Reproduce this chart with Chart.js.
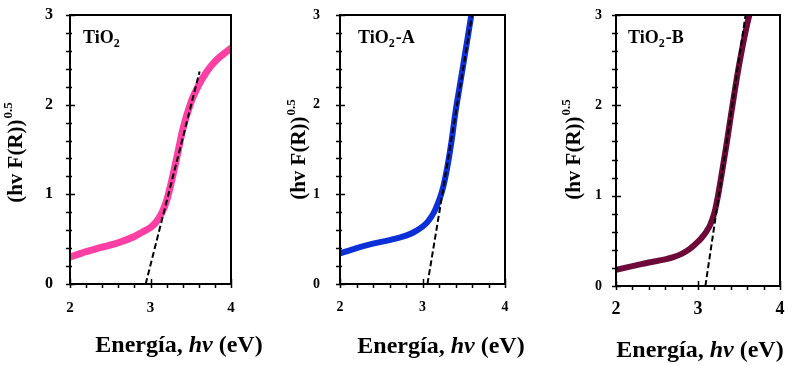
<!DOCTYPE html>
<html>
<head>
<meta charset="utf-8">
<script src="https://cdn.jsdelivr.net/npm/chart.js@4/dist/chart.umd.min.js"></script>
<style>
  html, body { margin: 0; padding: 0; background: #fff; }
  #wrap { position: relative; width: 800px; height: 365px; }
  canvas { position: absolute; top: 0; }
</style>
</head>
<body>
<div id="wrap">
  <canvas id="c1" width="270" height="365" style="left:0px"></canvas>
  <canvas id="c2" width="265" height="365" style="left:270px"></canvas>
  <canvas id="c3" width="265" height="365" style="left:535px"></canvas>
</div>
<script>
// axis ticks
const xTicks = [2, 3, 4];
const yTicks = [0, 1, 2, 3];

// TiO2
const tio2X = [2.0, 2.2, 2.4, 2.6, 2.8, 2.9, 3.0, 3.05, 3.1, 3.15, 3.2, 3.25, 3.3, 3.35, 3.4, 3.5, 3.6, 3.7, 3.8, 3.9, 4.0];
const tio2Y = [0.30, 0.36, 0.41, 0.46, 0.53, 0.58, 0.63, 0.67, 0.73, 0.81, 0.93, 1.10, 1.30, 1.51, 1.72, 2.02, 2.22, 2.37, 2.48, 2.56, 2.63];
const tio2FitX = [2.94, 3.61];
const tio2FitY = [0, 2.37];

// TiO2-A
const tio2aX = [2.0, 2.2, 2.4, 2.6, 2.8, 2.9, 3.0, 3.05, 3.1, 3.15, 3.2, 3.25, 3.3, 3.35, 3.4, 3.45, 3.5, 3.55, 3.6];
const tio2aY = [0.34, 0.40, 0.45, 0.49, 0.54, 0.58, 0.64, 0.68, 0.74, 0.82, 0.93, 1.08, 1.30, 1.58, 1.92, 2.20, 2.48, 2.76, 3.05];
const tio2aFitX = [3.06, 3.60];
const tio2aFitY = [0, 3.0];

// TiO2-B
const tio2bX = [2.0, 2.2, 2.4, 2.6, 2.7, 2.8, 2.9, 3.0, 3.05, 3.1, 3.15, 3.2, 3.25, 3.3, 3.35, 3.4, 3.5, 3.6, 3.7];
const tio2bY = [0.18, 0.22, 0.26, 0.295, 0.32, 0.355, 0.41, 0.49, 0.54, 0.60, 0.68, 0.81, 1.03, 1.30, 1.58, 1.88, 2.44, 2.90, 3.25];
const tio2bFitX = [3.09, 3.58];
const tio2bFitY = [0, 3.0];

const SERIF = "'Liberation Serif', 'Times New Roman', serif";

function pts(xs, ys) {
    return xs.map((x, i) => ({x: x, y: ys[i]}));
}

// frame, tick marks and the texts with sub/superscripts
const decor = {
    id: 'decor',
    afterDraw(chart, args, o) {
        const ctx = chart.ctx;
        const a = chart.chartArea;
        const xs = chart.scales.x, ys = chart.scales.y;
        ctx.save();
        ctx.strokeStyle = '#000';
        ctx.lineWidth = 2;
        ctx.strokeRect(a.left, a.top, a.right - a.left, a.bottom - a.top);
        ctx.lineWidth = 1.5;
        ctx.beginPath();
        for (let v = 0; v <= 3.001; v += 0.2) {
            const y = Math.round(ys.getPixelForValue(v)) + 0.5;
            const major = Math.abs(v - Math.round(v)) < 0.01;
            ctx.moveTo(a.left - 4, y);
            ctx.lineTo(a.left + (major ? 5 : 2), y);
        }
        for (let v = 2; v <= 4.001; v += 0.2) {
            const x = Math.round(xs.getPixelForValue(v)) + 0.5;
            const major = Math.abs(v - Math.round(v)) < 0.01;
            ctx.moveTo(x, a.bottom + 4);
            ctx.lineTo(x, a.bottom - (major ? 5 : 1));
        }
        ctx.stroke();

        ctx.fillStyle = '#000';
        ctx.textBaseline = 'alphabetic';
        ctx.textAlign = 'left';

        // panel label, e.g. TiO2-A
        ctx.font = 'bold 18px ' + SERIF;
        let x = o.label.x;
        ctx.fillText('TiO', x, o.label.y);
        x += ctx.measureText('TiO').width;
        ctx.font = 'bold 12px ' + SERIF;
        ctx.fillText('2', x, o.label.y + 4);
        x += ctx.measureText('2').width;
        if (o.label.suffix) {
            ctx.font = 'bold 18px ' + SERIF;
            ctx.fillText(o.label.suffix, x + 1, o.label.y);
        }

        // y title (hv F(R))^0.5
        ctx.save();
        ctx.translate(o.yTitle.x, o.yTitle.y);
        ctx.rotate(-Math.PI / 2);
        ctx.font = 'bold 21px ' + SERIF;
        const mainTxt = '(hv F(R))';
        const mw = ctx.measureText(mainTxt).width;
        ctx.font = 'bold 13px ' + SERIF;
        const sw = ctx.measureText('0.5').width;
        const start = -(mw + sw) / 2;
        ctx.font = 'bold 21px ' + SERIF;
        ctx.fillText(mainTxt, start, 0);
        ctx.font = 'bold 13px ' + SERIF;
        ctx.fillText('0.5', start + mw + 1, -10);
        ctx.restore();

        // x title Energía, hv (eV)
        const parts = [
            ['Energía, ', 'bold 24px ' + SERIF],
            ['hv', 'italic bold 24px ' + SERIF],
            [' (eV)', 'bold 24px ' + SERIF]
        ];
        let tw = 0;
        parts.forEach(p => { ctx.font = p[1]; tw += ctx.measureText(p[0]).width; });
        x = o.xTitle.x - tw / 2;
        parts.forEach(p => {
            ctx.font = p[1];
            ctx.fillText(p[0], x, o.xTitle.y);
            x += ctx.measureText(p[0]).width;
        });
        ctx.restore();
    }
};

function makePanel(id, cfg) {
    const ctx = document.getElementById(id).getContext('2d');
    return new Chart(ctx, {
        type: 'line',
        data: {
            datasets: [{
                data: pts(cfg.fitX, cfg.fitY),
                borderColor: '#000',
                borderWidth: 2,
                borderDash: [6, 3],
                pointRadius: 0,
                order: 0
            }, {
                data: pts(cfg.xs, cfg.ys),
                borderColor: cfg.color,
                borderWidth: cfg.width,
                pointRadius: 0,
                cubicInterpolationMode: 'monotone',
                borderCapStyle: 'round',
                borderJoinStyle: 'round',
                order: 1
            }]
        },
        options: {
            responsive: false,
            animation: false,
            devicePixelRatio: 1,
            layout: {padding: {left: 0, top: cfg.top, right: cfg.padRight, bottom: 0}},
            plugins: {
                legend: {display: false},
                tooltip: {enabled: false},
                decor: cfg.decor
            },
            scales: {
                x: {
                    type: 'linear',
                    min: 2, max: 4,
                    afterBuildTicks: s => { s.ticks = xTicks.map(v => ({value: v})); },
                    afterFit: s => { s.height = cfg.bottom; s.paddingLeft = 0; s.paddingRight = 0; },
                    grid: {display: false, drawTicks: false},
                    border: {display: false},
                    ticks: {
                        color: '#000',
                        padding: cfg.xPad,
                        maxRotation: 0,
                        font: {family: SERIF, weight: 'bold', size: cfg.xFont}
                    }
                },
                y: {
                    min: 0, max: 3,
                    afterBuildTicks: s => { s.ticks = yTicks.map(v => ({value: v})); },
                    afterFit: s => { s.width = cfg.left; s.paddingTop = 0; s.paddingBottom = 0; },
                    grid: {display: false, drawTicks: false},
                    border: {display: false},
                    ticks: {
                        color: '#000',
                        padding: cfg.yPad,
                        font: {family: SERIF, weight: 'bold', size: cfg.yFont}
                    }
                }
            }
        },
        plugins: [decor]
    });
}

makePanel('c1', {
    xs: tio2X, ys: tio2Y, fitX: tio2FitX, fitY: tio2FitY,
    color: '#ff3fa4', width: 7,
    left: 70, padRight: 39, bottom: 81, top: 15,
    xFont: 15, yFont: 16, xPad: 15, yPad: 17,
    decor: {
        label: {x: 83, y: 43, suffix: ''},
        yTitle: {x: 22, y: 153},
        xTitle: {x: 179, y: 352}
    }
});

makePanel('c2', {
    xs: tio2aX, ys: tio2aY, fitX: tio2aFitX, fitY: tio2aFitY,
    color: '#0c30d8', width: 6,
    left: 70, padRight: 30, bottom: 81, top: 15,
    xFont: 14, yFont: 14, xPad: 15, yPad: 20,
    decor: {
        label: {x: 88, y: 43, suffix: '-A'},
        yTitle: {x: 35, y: 150},
        xTitle: {x: 171, y: 353}
    }
});

makePanel('c3', {
    xs: tio2bX, ys: tio2bY, fitX: tio2bFitX, fitY: tio2bFitY,
    color: '#6d0a3a', width: 6,
    left: 81, padRight: 20, bottom: 79, top: 15,
    xFont: 18, yFont: 14, xPad: 13, yPad: 14,
    decor: {
        label: {x: 93, y: 43, suffix: '-B'},
        yTitle: {x: 45, y: 150},
        xTitle: {x: 165, y: 357}
    }
});
</script>
</body>
</html>
